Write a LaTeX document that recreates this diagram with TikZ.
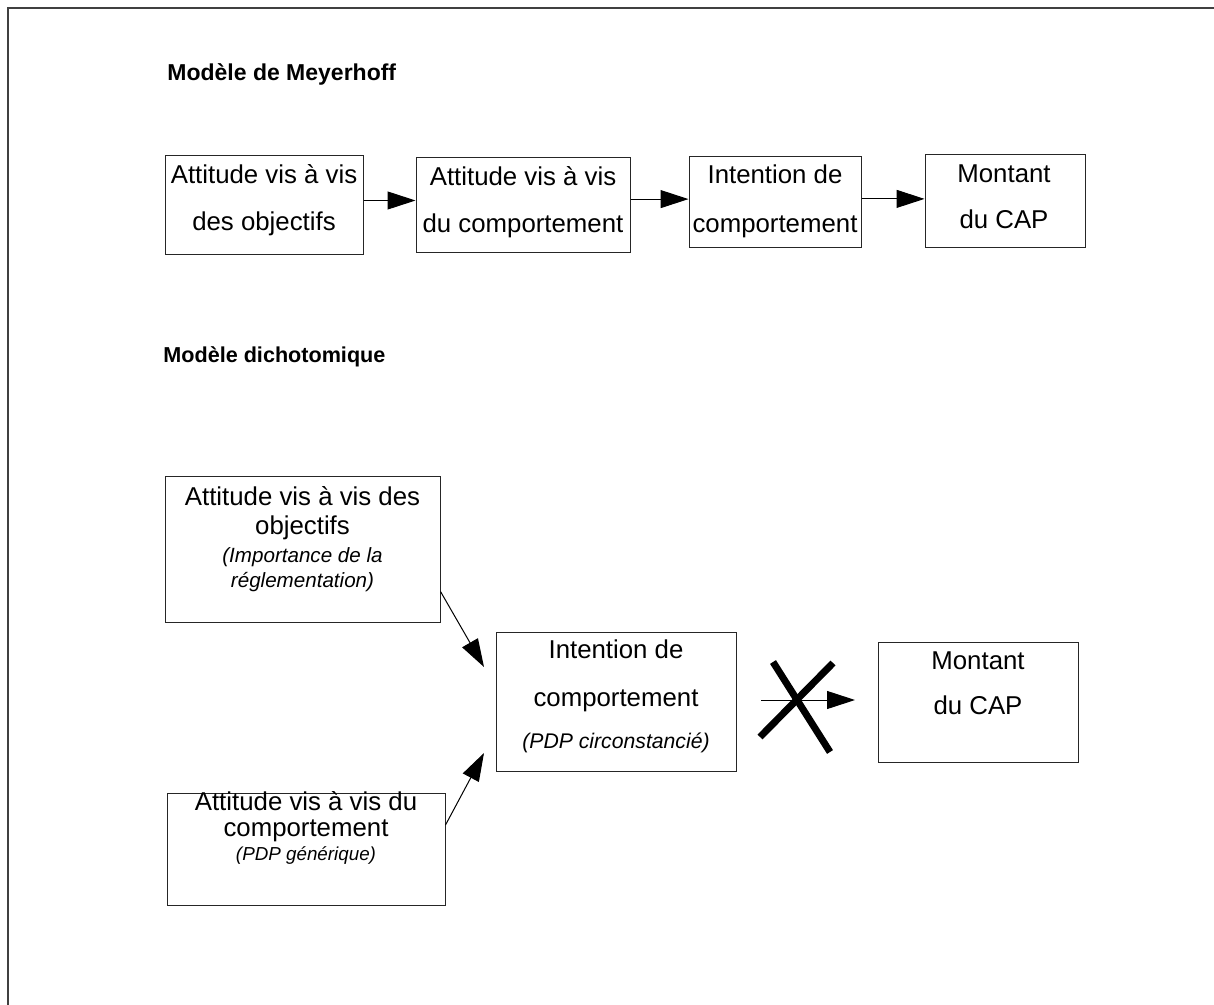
\documentclass[tikz,border=0pt]{standalone}
\usepackage{fontspec}
\setmainfont{Liberation Sans}
\usetikzlibrary{arrows.meta}
\begin{document}
\begin{tikzpicture}[x=0.5pt,y=-0.5pt,
  box/.style={draw=black!85, line width=0.5pt, rectangle, inner sep=0pt},
  lbl/.style={inner sep=0pt, anchor=base, font=\fontsize{12.9}{15}\selectfont},
  ital/.style={inner sep=0pt, anchor=base, font=\fontsize{#1}{12}\selectfont\itshape},
  arr/.style={-{Triangle[length=14pt,width=9pt]}, line width=0.5pt},
  ttl/.style={inner sep=0pt, anchor=base west, font=\fontsize{#1}{15}\selectfont\bfseries},
  cross/.style={line width=3.5pt}]
\useasboundingbox (0,0) rectangle (1214,1005);
\draw[line width=0.6pt, black!75] (8,1005) -- (8,8) -- (1214,8);

% titles
\node[ttl=11.5] (t1) at (167,81) {Modèle de Meyerhoff};
\node[ttl=10.8] (t2) at (163,363) {Modèle dichotomique};

% top row boxes
\node[box, minimum width=99pt, minimum height=49.5pt] (b1) at (264,205.5) {};
\node[box, minimum width=107pt, minimum height=47.5pt] (b2) at (523,205.5) {};
\node[box, minimum width=86pt, minimum height=45.5pt] (b3) at (775,202.5) {};
\node[box, minimum width=80pt, minimum height=46.5pt] (b4) at (1005,201.5) {};

\node[lbl] (b1a) at (264,184) {Attitude vis à vis};
\node[lbl] (b1b) at (264,231) {des objectifs};
\node[lbl] (b2a) at (523,186) {Attitude vis à vis};
\node[lbl] (b2b) at (523,233) {du comportement};
\node[lbl] (b3a) at (775,184) {Intention de};
\node[lbl] (b3b) at (775,233) {comportement};
\node[lbl] (b4a) at (1004,183) {Montant};
\node[lbl] (b4b) at (1004,229) {du CAP};

\draw[arr] ([yshift=2.5pt]b1.east) -- ([yshift=2.5pt]b1.east -| b2.west);
\draw[arr] ([yshift=3.2pt]b2.east) -- ([yshift=3.2pt]b2.east -| b3.west);
\draw[arr] ([yshift=1.8pt]b3.east) -- ([yshift=1.8pt]b3.east -| b4.west);

% bottom boxes
\node[box, minimum width=137.5pt, minimum height=73pt] (bA) at (302.5,549) {};
\node[box, minimum width=120pt, minimum height=69.5pt] (bI) at (616,701.5) {};
\node[box, minimum width=100pt, minimum height=60pt] (bM) at (978,702) {};
\node[box, minimum width=139pt, minimum height=56pt] (bB) at (306,849) {};

\node[lbl] (bAa) at (302.5,505) {Attitude vis à vis des};
\node[lbl] (bAb) at (302.5,534) {objectifs};
\node[ital=10.3] (bAc) at (302.5,562) {(Importance de la};
\node[ital=10.3] (bAd) at (302.5,587) {réglementation)};

\node[lbl] (bIa) at (616,658) {Intention de};
\node[lbl] (bIb) at (616,706) {comportement};
\node[ital=10.6] (bIc) at (616,748) {(PDP circonstancié)};

\node[lbl] (bMa) at (978,669) {Montant};
\node[lbl] (bMb) at (978,714) {du CAP};

\node[lbl] (bBa) at (306,810) {Attitude vis à vis du};
\node[lbl] (bBb) at (306,836) {comportement};
\node[ital=9.4] (bBc) at (306,860) {(PDP générique)};

% connectors
\coordinate (tA) at (484,667);
\coordinate (tB) at (484,753);
\draw[arr] ([yshift=15.5pt]bA.south east) -- (tA);
\draw[arr] ([yshift=12pt]bB.east) -- (tB);

\coordinate (xs) at (761,700);
\coordinate (xe) at (855,700);
\draw[arr] (xs) -- (xe);
\draw[cross] (773,662) -- (830,752);
\draw[cross] (833,663) -- (760,737);
\end{tikzpicture}
\end{document}
